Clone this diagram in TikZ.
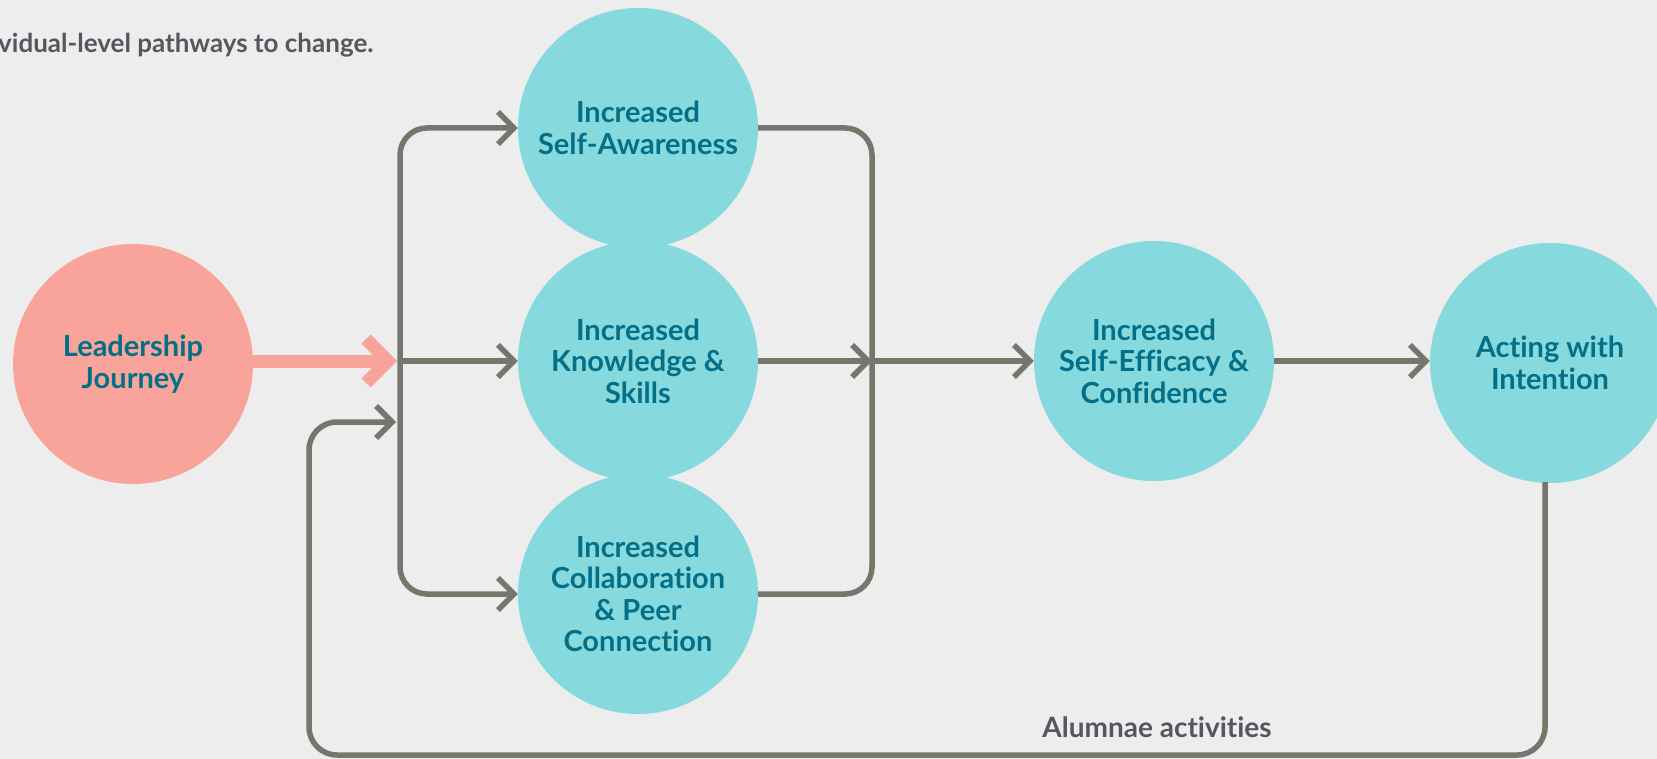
\documentclass[tikz,border=0pt]{standalone}
\usepackage{fontspec}
\setmainfont{Lato}[Ligatures={NoCommon}]
\usetikzlibrary{arrows.meta,calc}
\definecolor{bgc}{RGB}{237,237,237}
\definecolor{pinkc}{RGB}{249,164,155}
\definecolor{tealc}{RGB}{134,218,222}
\definecolor{tealtxt}{RGB}{4,112,136}
\definecolor{linec}{RGB}{118,118,108}
\definecolor{greytxt}{RGB}{86,86,94}
\tikzset{
  bubble/.style={circle, minimum size=240pt, inner sep=0pt, align=center,
    text=tealtxt, font=\fontsize{29}{31.5}\selectfont\bfseries},
  tealbubble/.style={bubble, fill=tealc},
  pinkbubble/.style={bubble, fill=pinkc},
  gline/.style={draw=linec, line width=5.5pt, line join=round},
  garrow/.style={gline, -{Straight Barb[length=16pt,width=32pt]}},
  pinkline/.style={draw=pinkc, line width=13pt, line join=miter},
  greytext/.style={text=greytxt, font=\fontsize{26}{30}\selectfont\bfseries, inner sep=0pt}
}
\begin{document}
\begin{tikzpicture}[x=1pt,y=-1pt]
\fill[bgc] (0,0) rectangle (1657,759);
\useasboundingbox (0,0) rectangle (1657,759);

\node[greytext, anchor=base west] (head) at (-2,53) {vidual-level pathways to change.};

\node[pinkbubble] (LJ) at (133,364) {Leadership\\Journey};
\node[tealbubble] (SA) at (638,128) {Increased\\Self-Awareness};
\node[tealbubble] (CP) at (638,594) {Increased\\Collaboration\\\& Peer\\Connection};
\node[tealbubble] (KS) at (638,361) {Increased\\Knowledge \&\\Skills};
\node[tealbubble] (SE) at (1154,361) {Increased\\Self-Efficacy \&\\Confidence};
\node[tealbubble] (AI) at (1550,363) {Acting with\\Intention};

\coordinate (JL) at (400,361);
\coordinate (JR) at (872,361);
\coordinate (RT) at (872,128);
\coordinate (RB) at (872,594);
\coordinate (FBa) at (1545,482);
\coordinate (FBb) at (1545,755);
\coordinate (FBc) at (309,755);
\coordinate (FBd) at (309,422);
\coordinate (FBe) at (396,422);

% pink arrow
\draw[pinkline] (LJ.east |- JL) -- ($(JL)+(-12,0)$);
\draw[pinkline] ($(JL)+(-34,-22)$) -- ($(JL)+(-12,0)$) -- ($(JL)+(-34,22)$);

% left trunk and branches
\draw[garrow, rounded corners=27pt] (JL) |- (SA.west);
\draw[garrow, rounded corners=27pt] (JL) |- (CP.west);
\draw[garrow] (JL) -- (KS.west);

% right collector
\draw[gline, rounded corners=27pt] (SA.east) -- (RT) -- (RB) -- (CP.east);
\draw[garrow] (KS.east) -- (JR);
\draw[garrow] (JR) -- (SE.west);
\draw[garrow] (SE.east) -- (AI.west |- SE.east);

% feedback loop
\draw[garrow, rounded corners=28pt] (FBa) -- (FBb) -- (FBc) -- (FBd) -- (FBe);
\node[greytext, anchor=base, font=\fontsize{28}{30}\selectfont\bfseries] (alum) at (1157,737) {Alumnae activities};
\end{tikzpicture}
\end{document}
